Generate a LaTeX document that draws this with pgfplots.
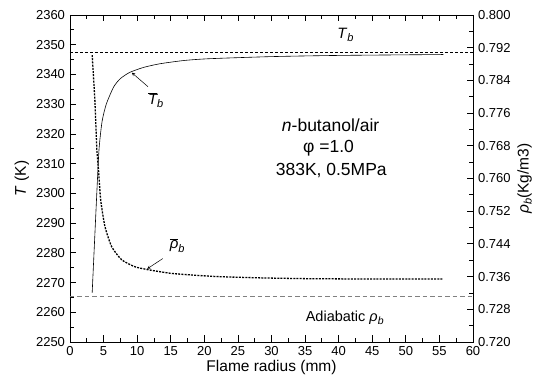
\documentclass[border=0pt]{standalone}
\usepackage{pgfplots}
\pgfplotsset{compat=1.18}
\usepackage{fontspec}
\setmainfont{Liberation Sans}
\begin{document}
\begin{tikzpicture}
\pgfplotsset{
  common/.style={
    scale only axis, width=403pt, height=327pt,
    xmin=0, xmax=60,
    tick align=inside,
    major tick length=6.5pt, minor tick length=4pt,
    every tick/.style={black, line width=0.8pt},
    axis line style={line width=0.9pt},
    tick label style={font=\fontsize{13}{15}\selectfont},
    label style={font=\fontsize{15.5}{18}\selectfont},
    /pgf/number format/assume math mode=true,
    /pgf/number format/1000 sep={},
    clip=false,
  }
}
\begin{axis}[common, name=ax,
  ymin=2250, ymax=2360,
  xtick={0,5,...,60}, ytick={2250,2260,...,2360},
  minor x tick num=1, minor y tick num=1,
  xtick pos=both, ytick pos=left,
  xticklabel pos=lower,
  yticklabel style={xshift=-1.5pt},
  xticklabel style={yshift=-1pt},
  xlabel={Flame radius (mm)},
  ylabel={\textit{T} (K)},
  xlabel style={yshift=2pt},
]
% T_b-bar
\addplot[black, line width=0.6pt, smooth, tension=0.4] coordinates {
(3.3,2266.5) (4.2,2310) (4.45,2318) (4.8,2324.5) (5.4,2330) (6.5,2335.8) (7.5,2338.6) (8.9,2340.7) (11,2342.4) (13.4,2343.6) (17,2344.7) (20.8,2345.3) (30,2346) (40,2346.4) (55.6,2346.7)
};
% T_b
\addplot[black, line width=0.6pt, dash pattern=on 3pt off 2pt] coordinates {(0,2347.6) (60,2347.6)};
\node[font=\fontsize{15}{18}\selectfont] at (axis cs:41,2353.4) {\textit{T}\raisebox{-0.35ex}{\fontsize{11}{13}\selectfont\itshape b}};
\node[font=\fontsize{15}{18}\selectfont] at (axis cs:12.8,2331.3) {$\overline{\mbox{\itshape T}}_{\mbox{\fontsize{11}{13}\selectfont\itshape b}}$};
\draw[-stealth, line width=0.5pt] (axis cs:11.6,2335.9) -- (axis cs:9.2,2340.6);
\node[font=\fontsize{17.5}{20}\selectfont] at (axis cs:38.8,2322.8) {\textit{n}-butanol/air};
\node[font=\fontsize{17.5}{20}\selectfont] at (axis cs:38.5,2315.2) {φ =1.0};
\node[font=\fontsize{17.5}{20}\selectfont] at (axis cs:38.9,2307.8) {383K, 0.5MPa};
\node[font=\fontsize{14.5}{17}\selectfont] at (axis cs:40.9,2258.1) {Adiabatic \textit{ρ}\raisebox{-0.35ex}{\fontsize{10.5}{12}\selectfont\itshape b}};
\end{axis}
\begin{axis}[common,
  ymin=0.720, ymax=0.800,
  axis x line=none, axis y line*=right,
  ytick={0.720,0.728,...,0.8001},
  minor y tick num=1,
  yticklabel style={xshift=1.5pt, /pgf/number format/.cd, fixed, fixed zerofill, precision=3},
  ylabel={\textit{ρ}\raisebox{-0.35ex}{\fontsize{11}{13}\selectfont\itshape b}(Kg/m3)},
]
% rho_b-bar
\addplot[black, line width=1.3pt, dash pattern=on 2pt off 1.2pt, smooth, tension=0.35] coordinates {
(3.3,0.7902) (3.7,0.7792) (4.0,0.7670) (4.25,0.7620) (4.57,0.7547) (5.21,0.7482) (6.21,0.7433) (7.7,0.7401) (9.68,0.7384) (11.91,0.7376) (15,0.7368) (18,0.7364) (22,0.7360) (28,0.7357) (35,0.7355) (45,0.7354) (55.5,0.7354)
};
% adiabatic rho_b
\addplot[gray, line width=0.8pt, dash pattern=on 4.5pt off 3pt] coordinates {(0,0.7311) (60,0.7311)};
\node[font=\fontsize{15}{18}\selectfont, inner sep=1pt] at (axis cs:16.0,0.7436) {$\overline{\mbox{\itshape ρ}}_{\mbox{\fontsize{11}{13}\selectfont\itshape b}}$};
\draw[-stealth, line width=0.5pt] (axis cs:13.8,0.7404) -- (axis cs:11.5,0.7379);
\end{axis}
\pgfresetboundingbox
\path ([xshift=-70pt,yshift=-45pt]ax.south west) rectangle ([xshift=65pt,yshift=15pt]ax.north east);
\end{tikzpicture}
\end{document}
